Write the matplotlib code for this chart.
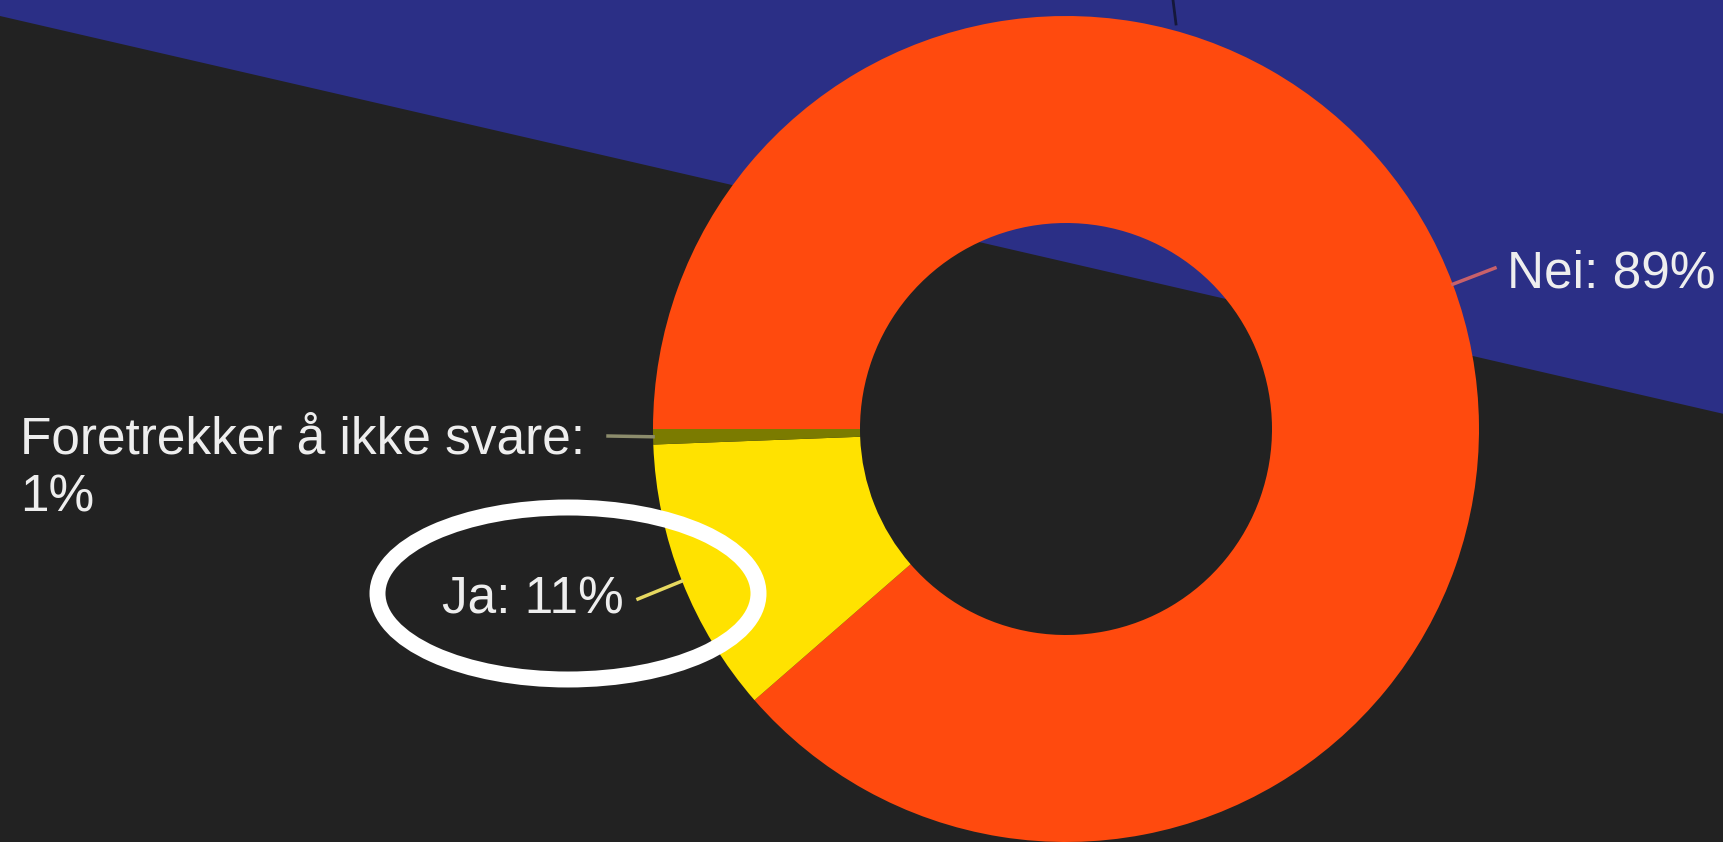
import numpy as np
import matplotlib.pyplot as plt
from matplotlib.patches import Ellipse, Polygon

# Svarfordeling (prosent)
labels = ["Nei", "Ja", "Foretrekker å ikke svare"]
shares = [88.6, 10.8, 0.6]
colors = ["#ff4a0e", "#ffe200", "#7b7b00"]
line_colors = ["#c8606a", "#e6d860", "#8c8c6c"]
label_sep = [" ", " ", "\n"]  # lang etikett brytes over to linjer

# Plassering av etiketter (piksler, y nedover, grunnlinje for siste linje)
leader_end = [(1495, 268), (638, 599), (608, 436)]
text_pos = [(1507, 287), (442, 613), (20, 512)]

W, H = 1724, 842
fig = plt.figure(figsize=(W / 100, H / 100), dpi=100)
fig.patch.set_facecolor("#222222")
ax = fig.add_axes([0, 0, 1, 1])
ax.set_facecolor("#222222")

# Blått skrått felt i bakgrunnen
ax.add_patch(Polygon([(0, H), (0, H - 16), (W, H - 414), (W, H)],
                     closed=True, color="#2b2f86", lw=0, zorder=0))

# Smokering
cx, cy = 1066, H - 429
r_out = 413
wedges, _ = ax.pie(shares, colors=colors, startangle=180, counterclock=False,
                   center=(cx, cy), radius=r_out, frame=True,
                   wedgeprops=dict(width=207, linewidth=0))
for w in wedges:
    w.set_zorder(2)

# Liten mørk strek over ringen
ax.plot([1173, 1176], [H, H - 24], color="#15183a", lw=2, zorder=1)

# Etiketter med tilhørende linjer
for w, lab, val, sep, lc, end, pos in zip(wedges, labels, shares, label_sep,
                                           line_colors, leader_end, text_pos):
    theta = np.deg2rad((w.theta1 + w.theta2) / 2)
    x0 = cx + r_out * np.cos(theta)
    y0 = cy + r_out * np.sin(theta)
    ax.plot([x0, end[0]], [y0, H - end[1]], color=lc, lw=2.5, zorder=3)
    ax.text(pos[0], H - pos[1], f"{lab}:{sep}{val:.0f}%", color="#eeeeee",
            fontsize=37, family="Liberation Sans", ha="left", va="baseline",
            linespacing=1.26, zorder=4)

# Hvit ring rundt "Ja"
ax.add_patch(Ellipse((568, H - 593.5), 381, 172, fc="none", ec="white",
                     lw=11.5, zorder=5))

ax.set_xlim(0, W)
ax.set_ylim(0, H)
ax.set_aspect("auto")
ax.axis("off")

plt.savefig("out.png", dpi=100, facecolor=fig.get_facecolor())
